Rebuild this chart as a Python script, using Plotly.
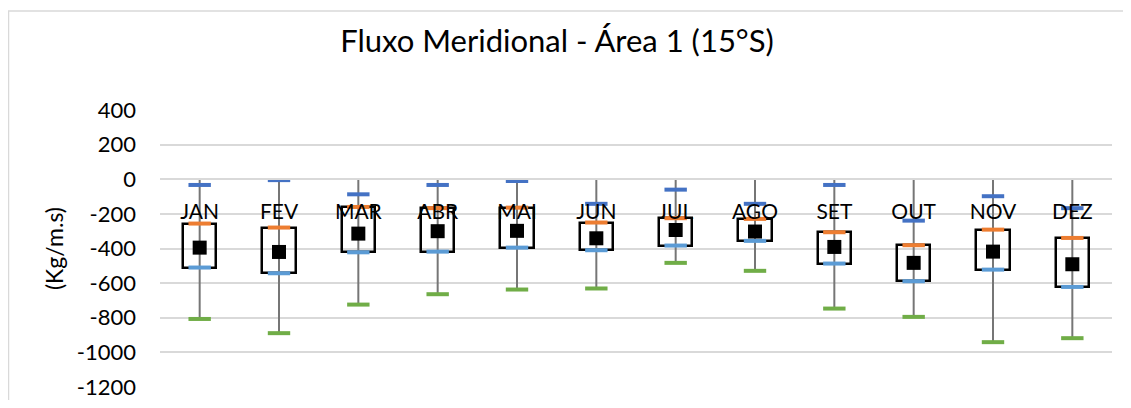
import plotly.graph_objects as go

meses = ["JAN", "FEV", "MAR", "ABR", "MAI", "JUN", "JUL", "AGO", "SET", "OUT", "NOV", "DEZ"]
maximo = [-33, -5, -87, -33, -10, -142, -60, -142, -33, -239, -98, -167]
quartil3 = [-256, -279, -160, -167, -164, -250, -225, -229, -306, -381, -291, -339]
media = [-395, -420, -314, -300, -298, -341, -293, -302, -391, -483, -418, -491]
quartil1 = [-510, -543, -422, -418, -395, -410, -383, -356, -487, -589, -522, -622]
minimo = [-807, -889, -724, -664, -637, -631, -483, -529, -747, -795, -941, -918]
topo = [0] * 12

y_ticks = [400, 200, 0, -200, -400, -600, -800, -1000, -1200]

FONT = "Lato"

fig = go.Figure()

# Boxes (Q1 to Q3)
fig.add_trace(go.Bar(
    x=meses, base=quartil1, y=[a - b for a, b in zip(quartil3, quartil1)],
    width=0.42, marker=dict(color="rgba(0,0,0,0)", line=dict(color="black", width=2.5)),
    hoverinfo="skip", showlegend=False,
))

# Gray vertical line from 0 to min
lx, ly = [], []
for m, t, mn in zip(meses, topo, minimo):
    lx += [m, m, None]
    ly += [t, mn, None]
fig.add_trace(go.Scatter(x=lx, y=ly, mode="lines", line=dict(color="#767676", width=2),
                         hoverinfo="skip", showlegend=False))

def dash(vals, color):
    fig.add_trace(go.Scatter(
        x=meses, y=vals, mode="markers",
        marker=dict(symbol="line-ew", size=16, line=dict(color=color, width=4)),
        hoverinfo="skip", showlegend=False,
    ))

dash(maximo, "#4472C4")
dash(quartil3, "#ED7D31")
dash(quartil1, "#5B9BD5")
dash(minimo, "#70AD47")

fig.add_trace(go.Scatter(
    x=meses, y=media, mode="markers",
    marker=dict(symbol="square", size=14, color="black"),
    hoverinfo="skip", showlegend=False,
))

# page body has an 8px margin on every side; keep the figure inside the window
OFF = 8
W, H = 1131 - 2 * OFF, 408 - 2 * OFF
L, T = 160 - OFF, 110 - OFF
pw, ph = 952, 277
R, B = W - L - pw, H - T - ph

fig.update_layout(
    width=W, height=H,
    margin=dict(l=L, r=R, t=T, b=B, autoexpand=False),
    paper_bgcolor="white", plot_bgcolor="white",
    font=dict(family=FONT, size=20, color="#000000"),
    title=dict(text="Fluxo Meridional - Área 1 (15°S)", x=(557 - OFF) / W, xref="container",
               xanchor="center",
               y=1 - (41 - OFF) / H, yref="container", yanchor="middle",
               font=dict(family=FONT, size=31, color="#000000")),
    showlegend=False,
    bargap=0,
    xaxis=dict(
        type="category", categoryorder="array", categoryarray=meses,
        range=[-0.5, 11.5], anchor="free", position=0.75,
        showgrid=False, showline=True, linecolor="#d9d9d9", linewidth=1.5,
        ticks="", ticklabelstandoff=14, automargin=False,
        tickfont=dict(family=FONT, size=21, color="#000000"),
        zeroline=False, fixedrange=True,
    ),
    yaxis=dict(
        range=[-1200, 400], tickvals=y_ticks, ticktext=[str(v) for v in y_ticks],
        showgrid=True, gridcolor="#d9d9d9", gridwidth=1.5, automargin=False,
        zeroline=False, showline=False, ticks="", ticklabelstandoff=23,
        tickfont=dict(family=FONT, size=22, color="#000000"),
        title=dict(text="(Kg/m.s)", font=dict(family=FONT, size=23, color="#000000"), standoff=6),
        fixedrange=True,
    ),
    shapes=[dict(
        type="rect", xref="paper", yref="paper",
        x0=(0.5 - L) / pw, x1=(W + 60 - L) / pw,
        y0=-(B + 30) / ph, y1=(H - 3 - B) / ph,
        line=dict(color="#d9d9d9", width=1.5), fillcolor="rgba(0,0,0,0)", layer="below",
    )],
)

fig.write_html("out.html")
